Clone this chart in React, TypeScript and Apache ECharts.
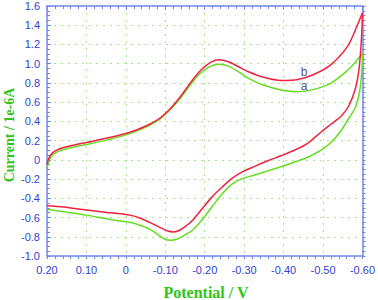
import React, { useEffect, useRef } from "react";
import * as echarts from "echarts";

// Potential (V) and current (1e-6 A)
const fwdPotential = [0.2, 0.197, 0.19, 0.18, 0.16, 0.13, 0.1, 0.05, 0.0, -0.03, -0.06, -0.085, -0.11, -0.135, -0.16, -0.185, -0.21, -0.235, -0.26, -0.286, -0.311, -0.35, -0.394, -0.436, -0.478, -0.52, -0.562, -0.587, -0.6];
const fwdCurrentB = [-0.05, 0.0, 0.055, 0.09, 0.125, 0.155, 0.18, 0.225, 0.275, 0.315, 0.37, 0.43, 0.52, 0.64, 0.78, 0.91, 1.0, 1.04, 1.02, 0.968, 0.916, 0.858, 0.825, 0.835, 0.89, 0.99, 1.18, 1.4, 1.53];
const fwdCurrentA = [-0.09, -0.035, 0.03, 0.07, 0.105, 0.135, 0.16, 0.205, 0.26, 0.305, 0.36, 0.42, 0.51, 0.625, 0.76, 0.885, 0.965, 0.993, 0.975, 0.915, 0.848, 0.775, 0.727, 0.708, 0.733, 0.797, 0.93, 1.04, 1.107];

const revPotentialB = [-0.6, -0.598, -0.592, -0.582, -0.565, -0.545, -0.52, -0.495, -0.462, -0.43, -0.395, -0.36, -0.325, -0.295, -0.27, -0.245, -0.22, -0.195, -0.17, -0.15, -0.135, -0.12, -0.105, -0.085, -0.06, -0.035, -0.01, 0.04, 0.1, 0.157, 0.2];
const revCurrentB = [1.53, 1.3, 0.97, 0.74, 0.56, 0.45, 0.37, 0.29, 0.175, 0.105, 0.045, -0.01, -0.07, -0.125, -0.19, -0.28, -0.38, -0.5, -0.625, -0.695, -0.735, -0.75, -0.738, -0.7, -0.65, -0.605, -0.575, -0.55, -0.522, -0.49, -0.477];

const revPotentialA = [-0.6, -0.598, -0.592, -0.582, -0.565, -0.545, -0.52, -0.495, -0.462, -0.43, -0.395, -0.36, -0.325, -0.295, -0.27, -0.245, -0.22, -0.195, -0.17, -0.15, -0.13, -0.115, -0.1, -0.08, -0.06, -0.035, -0.01, 0.04, 0.1, 0.157, 0.2];
const revCurrentA = [1.107, 0.9, 0.69, 0.545, 0.43, 0.3, 0.18, 0.1, 0.03, -0.02, -0.07, -0.115, -0.16, -0.195, -0.25, -0.35, -0.48, -0.615, -0.73, -0.78, -0.823, -0.835, -0.828, -0.772, -0.72, -0.68, -0.65, -0.62, -0.575, -0.54, -0.515];

const curveLabels = ["b", "a"];
const labelPotential = [-0.452, -0.452];
const labelCurrent = [0.917, 0.768];

const xTitle = "Potential / V";
const yTitle = "Current / 1e-6A";

const RED = "#f2223e";
const GREEN = "#66dd22";
const AXIS = "#7386ee";
const TICKTEXT = "#2f3fd6";
const TITLE = "#2ec41a";

const zip = (xs: number[], ys: number[]) => xs.map((x, i) => [x, ys[i]]);

export default function App() {
  const ref = useRef<HTMLDivElement>(null);
  useEffect(() => {
    if (!ref.current) return;
    const chart = echarts.init(ref.current, undefined, { renderer: "svg" });
    const lineStyleAxis = { color: AXIS, width: 1.5 };
    const baseX = {
      type: "value" as const,
      min: -0.6,
      max: 0.2,
      interval: 0.1,
      inverse: true,
    };
    const baseY = {
      type: "value" as const,
      min: -1.0,
      max: 1.6,
      interval: 0.2,
    };
    const lineSeries = (data: number[][], color: string) => ({
      type: "line",
      data,
      showSymbol: false,
      symbol: "none",
      smooth: 0.3,
      lineStyle: { color, width: 1.5 },
      silent: true,
      z: color === RED ? 3 : 2,
    });
    chart.setOption({
      animation: false,
      backgroundColor: "#ffffff",
      grid: { left: 47, right: 13, top: 6, bottom: 44 },
      xAxis: [
        {
          ...baseX,
          position: "bottom",
          axisLine: { show: true, onZero: false, lineStyle: lineStyleAxis },
          axisTick: { show: true, inside: false, length: 3, lineStyle: { color: AXIS } },
          minorTick: { show: true, splitNumber: 5, length: 3, lineStyle: { color: AXIS } },
          axisLabel: {
            color: TICKTEXT,
            fontFamily: "Liberation Sans, Arial, sans-serif",
            fontSize: 11,
            margin: 8,
            formatter: (v: number) => (Math.abs(v) < 1e-9 ? "0" : v.toFixed(2)),
          },
          splitLine: { show: true, lineStyle: { color: "#a6e68a", type: [2, 5], width: 1 } },
        },
        {
          ...baseX,
          position: "top",
          axisLine: { show: true, onZero: false, lineStyle: lineStyleAxis },
          axisTick: { show: true, inside: true, length: 4, lineStyle: { color: AXIS } },
          minorTick: { show: true, splitNumber: 5, length: 3, lineStyle: { color: AXIS } },
          axisLabel: { show: false },
          splitLine: { show: false },
        },
      ],
      yAxis: [
        {
          ...baseY,
          position: "left",
          axisLine: { show: true, onZero: false, lineStyle: lineStyleAxis },
          axisTick: { show: true, inside: true, length: 4, lineStyle: { color: AXIS } },
          minorTick: { show: true, splitNumber: 4, length: 3, lineStyle: { color: AXIS } },
          axisLabel: {
            color: TICKTEXT,
            fontFamily: "Liberation Sans, Arial, sans-serif",
            fontSize: 11,
            margin: 7,
            formatter: (v: number) => (Math.abs(v) < 1e-9 ? "0" : v.toFixed(1)),
          },
          splitLine: { show: true, lineStyle: { color: "#a6e68a", type: [2, 5], width: 1 } },
        },
        {
          ...baseY,
          position: "right",
          axisLine: { show: true, onZero: false, lineStyle: lineStyleAxis },
          axisTick: { show: true, inside: false, length: 3, lineStyle: { color: AXIS } },
          minorTick: { show: true, splitNumber: 4, length: 3, lineStyle: { color: AXIS } },
          axisLabel: { show: false },
          splitLine: { show: false },
        },
      ],
      series: [
        lineSeries(zip(fwdPotential, fwdCurrentA), GREEN),
        lineSeries(zip(revPotentialA, revCurrentA), GREEN),
        lineSeries(zip(fwdPotential, fwdCurrentB), RED),
        lineSeries(zip(revPotentialB, revCurrentB), RED),
        {
          type: "scatter",
          symbolSize: 0,
          silent: true,
          data: curveLabels.map((l, i) => [labelPotential[i], labelCurrent[i], l]),
          label: {
            show: true,
            position: "inside",
            formatter: (p: any) => p.data[2],
            color: "#1e2270",
            fontFamily: "Liberation Sans, Arial, sans-serif",
            fontSize: 12,
          },
          z: 5,
        },
      ],
      graphic: [
        {
          type: "text",
          x: 206,
          y: 292,
          style: {
            text: xTitle,
            fill: TITLE,
            font: "bold 16px 'Liberation Serif', 'Times New Roman', serif",
            textAlign: "center",
            textVerticalAlign: "middle",
          },
        },
        {
          type: "text",
          x: 9,
          y: 135,
          rotation: Math.PI / 2,
          style: {
            text: yTitle,
            fill: TITLE,
            font: "bold 14px 'Liberation Serif', 'Times New Roman', serif",
            textAlign: "center",
            textVerticalAlign: "middle",
          },
        },
      ],
    });
    return () => chart.dispose();
  }, []);
  return (
    <div
      ref={ref}
      style={{ width: 378, height: 300, position: "absolute", left: 0, top: 0 }}
    />
  );
}
